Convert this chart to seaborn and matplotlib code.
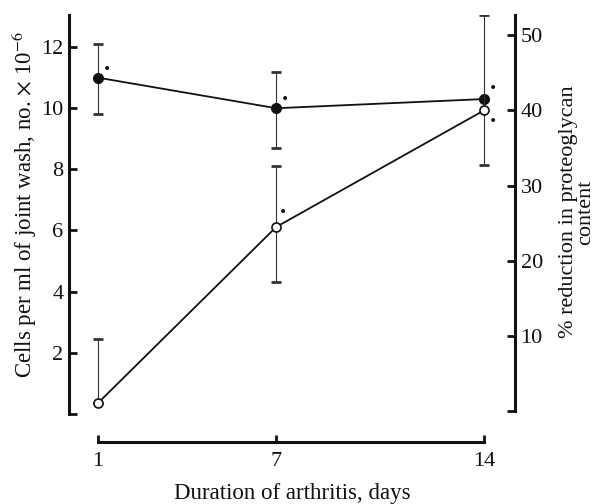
import pandas as pd
import numpy as np
import matplotlib
matplotlib.use('Agg')
import matplotlib.pyplot as plt
import seaborn as sns

# Data
days = [1, 7, 14]
cells = [11.0, 10.0, 10.3]            # cells per ml, x 10^-6 (filled circles, left axis)
cells_lo = [9.8, 8.7, 10.3]
cells_hi = [12.1, 11.2, 10.3]
reduction = [1.1, 24.5, 40.0]         # % reduction in proteoglycan (open circles, right axis)
reduction_lo = [1.1, 17.2, 32.7]
reduction_hi = [9.6, 32.6, 52.7]
cells_ticks = [0, 2, 4, 6, 8, 10, 12]
cells_ticklabels = ['', '2', '4', '6', '8', '10', '12']
red_ticks = [0, 10, 20, 30, 40, 50]
red_ticklabels = ['', '10', '20', '30', '40', '50']
cells_signif = [True, True, True]
red_signif = [False, True, True]

sns.set_theme(style='ticks')
plt.rcParams['font.family'] = ['Liberation Serif', 'DejaVu Serif']
plt.rcParams['mathtext.fontset'] = 'stix'

INK = '#111111'

fig = plt.figure(figsize=(5.96, 5.04), dpi=100)
ax = fig.add_axes([69 / 596, 62 / 504, 446 / 596, 427 / 504])
ax2 = ax.twinx()

df_cells = pd.DataFrame({'day': days, 'value': cells})
df_red = pd.DataFrame({'day': days, 'value': reduction})

# error bars (thin stems, heavy caps)
ax.errorbar(days, cells,
            yerr=[np.array(cells) - np.array(cells_lo), np.array(cells_hi) - np.array(cells)],
            fmt='none', ecolor='#333333', elinewidth=0.8, capsize=3.6, capthick=2.0, zorder=1)
ax2.errorbar(days, reduction,
             yerr=[np.array(reduction) - np.array(reduction_lo), np.array(reduction_hi) - np.array(reduction)],
             fmt='none', ecolor='#333333', elinewidth=0.8, capsize=3.6, capthick=2.0, zorder=1)

sns.lineplot(data=df_cells, x='day', y='value', ax=ax, color=INK, linewidth=1.3,
             marker='o', markersize=7, markerfacecolor=INK, markeredgecolor=INK,
             markeredgewidth=1.0, errorbar=None, zorder=3)
sns.lineplot(data=df_red, x='day', y='value', ax=ax2, color=INK, linewidth=1.3,
             marker='o', markersize=6.5, markerfacecolor='white', markeredgecolor=INK,
             markeredgewidth=1.2, errorbar=None, zorder=3)

# significance dots
cell_offsets = [(6.5, 6.5), (6.5, 6.5), (6.5, 8)]
red_offsets = [(0, 0), (5, 11), (6.5, -7.5)]
for d, v, s, off in zip(days, cells, cells_signif, cell_offsets):
    if s:
        ax.annotate('•', xy=(d, v), xytext=off, textcoords='offset points',
                    ha='center', va='center', fontsize=10, color=INK, family='DejaVu Sans')
for d, v, s, off in zip(days, reduction, red_signif, red_offsets):
    if s:
        ax2.annotate('•', xy=(d, v), xytext=off, textcoords='offset points',
                     ha='center', va='center', fontsize=10, color=INK, family='DejaVu Sans')

# scales
ax.set_xlim(0.023, 15.04)
ax.set_ylim(-0.92, 13.05)
ax2.set_ylim(-4.08, 52.67)

# spines
for s in ['top', 'right']:
    ax.spines[s].set_visible(False)
for s in ['top', 'left', 'bottom']:
    ax2.spines[s].set_visible(False)
ax.spines['left'].set_bounds(0, 13.05)
ax.spines['bottom'].set_bounds(1, 14)
ax2.spines['right'].set_bounds(0, 52.67)
for sp in [ax.spines['left'], ax.spines['bottom'], ax2.spines['right']]:
    sp.set_linewidth(2.2)
    sp.set_color(INK)

ax.set_xticks(days)
ax.set_xticklabels([str(d) for d in days])
ax.set_yticks(cells_ticks)
ax.set_yticklabels(cells_ticklabels)
ax2.set_yticks(red_ticks)
ax2.set_yticklabels(red_ticklabels)

ax.tick_params(axis='x', direction='in', length=5, width=2, pad=7, labelsize=16, colors=INK)
ax.tick_params(axis='y', direction='in', length=6, width=2, pad=4, labelsize=16, colors=INK)
ax2.tick_params(axis='y', direction='in', length=6, width=2, pad=4, labelsize=16, colors=INK)

ax.set_xlabel('Duration of arthritis, days', fontsize=16.5, color=INK)
ax.xaxis.label.set_va('center')
ax.xaxis.set_label_coords((292 - 69) / 446, -(493 - 442) / 427)
ax.set_ylabel(r'Cells per ml of joint wash, no. $\times$ 10$^{-6}$', fontsize=16.5, color=INK)
ax.yaxis.label.set_va('center')
ax.yaxis.set_label_coords(-(69 - 24) / 446, (442 - 205) / 427)
ax2.set_ylabel('% reduction in proteoglycan\ncontent', fontsize=16, color=INK,
               rotation=90, linespacing=0.85)
ax2.yaxis.label.set_va('center')
ax2.yaxis.set_label_coords((577 - 69) / 446, (442 - 212) / 427)

fig.savefig('out.png', dpi=100, facecolor='white')
